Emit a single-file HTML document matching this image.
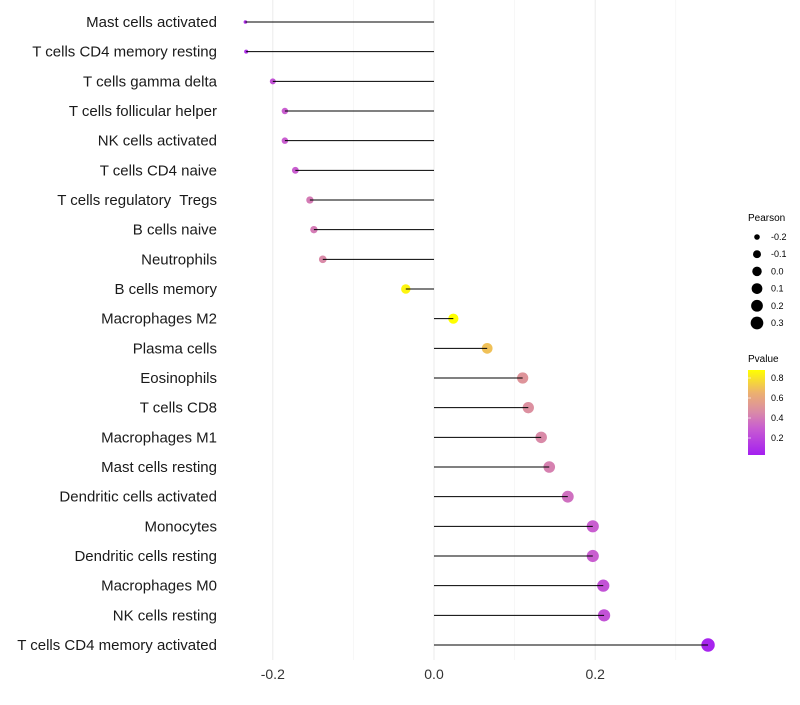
<!DOCTYPE html>
<html><head><meta charset="utf-8"><style>
body{margin:0;background:#fff;font-family:"Liberation Sans",sans-serif}
text{white-space:pre}
</style></head><body>
<svg id="chart" width="800" height="700" xmlns="http://www.w3.org/2000/svg">
<defs><linearGradient id="pg" x1="0" y1="1" x2="0" y2="0">
<stop offset="0" stop-color="#a41ff0"/><stop offset="0.32" stop-color="#c95ed0"/><stop offset="0.5" stop-color="#d98aa8"/><stop offset="0.73" stop-color="#ecb070"/><stop offset="1" stop-color="#ffff00"/>
</linearGradient></defs>
<g id="grid"></g><g id="marks"></g><g id="labels"></g>
<g font-size="9">
<text x="748" y="221" font-size="10">Pearson</text>
<g id="sizeleg"></g>
</g>
<g>
<text x="748" y="362" font-size="10">Pvalue</text>
<rect x="748" y="370" width="17" height="85" fill="url(#pg)"/>
<g id="colleg" font-size="9"></g>
</g>
</svg>
<script>
const categories=["Mast cells activated","T cells CD4 memory resting","T cells gamma delta","T cells follicular helper","NK cells activated","T cells CD4 naive","T cells regulatory  Tregs","B cells naive","Neutrophils","B cells memory","Macrophages M2","Plasma cells","Eosinophils","T cells CD8","Macrophages M1","Mast cells resting","Dendritic cells activated","Monocytes","Dendritic cells resting","Macrophages M0","NK cells resting","T cells CD4 memory activated"];
const pearson=[-0.234,-0.233,-0.200,-0.185,-0.185,-0.172,-0.154,-0.149,-0.138,-0.035,0.024,0.066,0.110,0.117,0.133,0.143,0.166,0.197,0.197,0.210,0.211,0.340];
const pvalues=[0.10,0.10,0.25,0.30,0.30,0.30,0.40,0.40,0.45,0.85,0.88,0.70,0.50,0.48,0.45,0.42,0.36,0.30,0.30,0.25,0.25,0.05];
const xTicks=[-0.2,0.0,0.2];
const sizeTicks=[-0.2,-0.1,0.0,0.1,0.2,0.3];
const pTicks=[0.2,0.4,0.6,0.8];
const NS="http://www.w3.org/2000/svg";
const x=v=>434+v*806;
const y=i=>22+i*(623/21);
const r=v=>1.8+6.5*Math.sqrt(Math.max(0,v+0.234));
const rl=v=>1.6+6.5*Math.sqrt(Math.max(0,v+0.234));
const stops=[[0.03,[164,31,240]],[0.30,[201,94,208]],[0.45,[217,138,168]],[0.65,[236,176,112]],[0.88,[255,255,0]]];
function col(p){p=Math.max(0.03,Math.min(0.88,p));for(let k=0;k<stops.length-1;k++){const[a,ca]=stops[k],[b,cb]=stops[k+1];if(p<=b){const t=(p-a)/(b-a);return "rgb("+ca.map((c,j)=>Math.round(c+(cb[j]-c)*t)).join(",")+")";}}return "rgb(255,255,0)";}
const py=p=>455-(p-0.03)/(0.85)*85;
function mk(tag,attrs,parent,text){const e=document.createElementNS(NS,tag);for(const k in attrs)e.setAttribute(k,attrs[k]);if(text!==undefined)e.textContent=text;document.getElementById(parent).appendChild(e);return e;}
[-0.1,0.1,0.3].forEach(v=>{const l=mk("line",{x1:x(v),x2:x(v),y1:0,y2:660,stroke:"#f2f2f2","stroke-width":0.6},"grid");

});
xTicks.forEach(v=>{const l=mk("line",{x1:x(v),x2:x(v),y1:0,y2:660,stroke:"#ebebeb","stroke-width":1},"grid");


const t=mk("text",{x:x(v),y:679,"text-anchor":"middle","font-size":14,fill:"#333"},"labels",v.toFixed(1));

});
categories.forEach((c,i)=>{const yy=y(i);
const t=mk("text",{x:217,y:yy+5,"text-anchor":"end","font-size":15,fill:"#1a1a1a"},"labels",c);


const d=mk("circle",{cx:x(pearson[i]),cy:yy,r:r(pearson[i]),fill:col(pvalues[i])},"marks");


const s=mk("line",{x1:x(0),x2:x(pearson[i]),y1:yy,y2:yy,stroke:"#000","stroke-width":1},"marks");

});
sizeTicks.forEach((v,k)=>{const yy=237+k*17.2;
const c=mk("circle",{cx:757,cy:yy,r:rl(v),fill:"#000"},"sizeleg");


const t=mk("text",{x:771,y:yy+3},"sizeleg",v.toFixed(1));

});
pTicks.forEach(p=>{const yy=py(p);
const l=mk("line",{x1:748,x2:751,y1:yy,y2:yy,stroke:"#fff","stroke-opacity":0.6},"colleg");


const t=mk("text",{x:771,y:yy+3},"colleg",p.toFixed(1));

});
</script>
</body></html>
